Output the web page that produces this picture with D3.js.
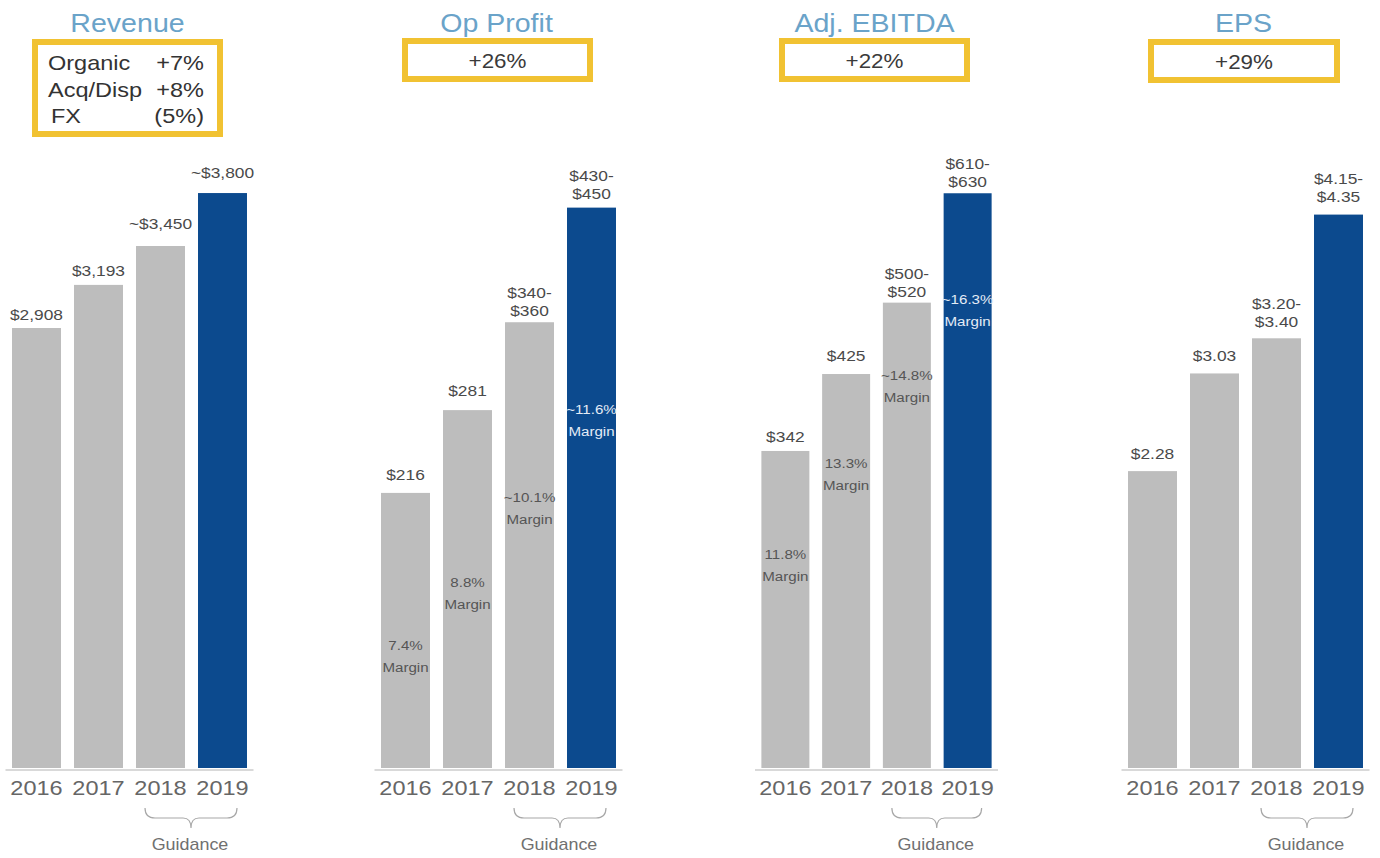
<!DOCTYPE html>
<html>
<head>
<meta charset="utf-8">
<script src="https://cdn.jsdelivr.net/npm/d3@7"></script>
<style>
  html, body { margin: 0; padding: 0; background: #ffffff; }
  svg { display: block; }
  text { font-family: "Liberation Sans", Arial, Helvetica, sans-serif; }
</style>
</head>
<body>
<svg id="chart" width="1380" height="858"></svg>
<script>
// ---- data ----------------------------------------------------------------
const years = ["2016", "2017", "2018", "2019"];
const guidanceYears = ["2018", "2019"];

const revenue = [2908, 3193, 3450, 3800];
const revenueLabels = [["$2,908"], ["$3,193"], ["~$3,450"], ["~$3,800"]];
const revenueBridge = [["Organic", "+7%"], ["Acq/Disp", "+8%"], ["FX", "(5%)"]];

const opProfit = [216, 281, 350, 440];
const opProfitLabels = [["$216"], ["$281"], ["$340-", "$360"], ["$430-", "$450"]];
const opProfitMargins = ["7.4%", "8.8%", "~10.1%", "~11.6%"];
const opProfitGrowth = "+26%";

const ebitda = [342, 425, 502, 620];
const ebitdaLabels = [["$342"], ["$425"], ["$500-", "$520"], ["$610-", "$630"]];
const ebitdaMargins = ["11.8%", "13.3%", "~14.8%", "~16.3%"];
const ebitdaGrowth = "+22%";

const eps = [2.28, 3.03, 3.30, 4.25];
const epsLabels = [["$2.28"], ["$3.03"], ["$3.20-", "$3.40"], ["$4.15-", "$4.35"]];
const epsGrowth = "+29%";

// ---- layout --------------------------------------------------------------
const W = 1380, H = 858;
const BASE = 768, TOP = 100;           // bar baseline and top of the value range
const SX = 1.12;                       // horizontal stretch applied to all text
const GREY = "#bdbdbd", BLUE = "#0c4a8e", GOLD = "#f1c232", TITLE = "#6aa3c9";

const panels = [
  { title: "Revenue", values: revenue, labels: revenueLabels, margins: null,
    growth: null, bridge: revenueBridge,
    x: [5.5, 253.5], yMax: 4415, gaps: [8, 9, 17, 15], drops: null,
    box: [35, 42, 185, 92] },
  { title: "Op Profit", values: opProfit, labels: opProfitLabels, margins: opProfitMargins,
    growth: opProfitGrowth, bridge: null,
    x: [374.5, 622.5], yMax: 524.5, gaps: [13, 14, 6, 9], drops: [157, 177, 180, 206],
    box: [405, 41, 185, 38] },
  { title: "Adj. EBITDA", values: ebitda, labels: ebitdaLabels, margins: ebitdaMargins,
    growth: ebitdaGrowth, bridge: null,
    x: [755, 998], yMax: 720.6, gaps: [9, 13, 6, 6], drops: [108, 94, 77, 111],
    box: [782, 41, 185, 38] },
  { title: "EPS", values: eps, labels: epsLabels, margins: null,
    growth: epsGrowth, bridge: null,
    x: [1121.5, 1369.5], yMax: 5.13, gaps: [12, 12, 11, 13], drops: null,
    box: [1151, 42, 186, 38] }
];

const svg = d3.select("#chart");

// text helper: positioned with a transform so it can be stretched horizontally
function txt(sel, x, y, s, size, fill, anchor = "middle") {
  return sel.append("text")
    .attr("transform", `translate(${x},${y}) scale(${SX},1)`)
    .attr("text-anchor", anchor)
    .attr("font-size", size)
    .attr("fill", fill)
    .text(s);
}

panels.forEach(p => {
  const g = svg.append("g");
  const x = d3.scaleBand().domain(years).range(p.x).paddingInner(0.21).paddingOuter(0.105);
  const y = d3.scaleLinear().domain([0, p.yMax]).range([BASE, TOP]);
  const cx = (x(years[0]) + x(years[3]) + x.bandwidth()) / 2;
  const bw = x.bandwidth();

  // title
  txt(g, cx - 2, 32, p.title, 25.5, TITLE);

  // growth box
  const [bx, by, bwid, bh] = p.box;
  g.append("rect").attr("x", bx).attr("y", by).attr("width", bwid).attr("height", bh)
    .attr("fill", "#fff").attr("stroke", GOLD).attr("stroke-width", 6);
  if (p.growth) {
    txt(g, bx + bwid / 2, by + 27, p.growth, 20, "#3a3a3a");
  }
  if (p.bridge) {
    p.bridge.forEach((row, i) => {
      const yy = by + 28 + i * 26.5;
      txt(g, bx + 13 + (i === 2 ? 3 : 0), yy, row[0], 21, "#333", "start");
      txt(g, bx + bwid - 16, yy, row[1], 21, "#333", "end");
    });
  }

  // baseline
  g.append("line")
    .attr("x1", p.x[0]).attr("x2", p.x[1])
    .attr("y1", BASE + 2).attr("y2", BASE + 2)
    .attr("stroke", "#d9d9d9").attr("stroke-width", 2);

  // bars
  g.selectAll("rect.bar").data(p.values).join("rect")
    .attr("class", "bar")
    .attr("x", (d, i) => x(years[i]))
    .attr("y", d => y(d))
    .attr("width", bw)
    .attr("height", d => BASE - y(d))
    .attr("fill", (d, i) => i === 3 ? BLUE : GREY);

  // value labels above bars
  p.values.forEach((v, i) => {
    const lines = p.labels[i];
    const bottom = y(v) - p.gaps[i];
    lines.forEach((s, j) => {
      txt(g, x(years[i]) + bw / 2, bottom - (lines.length - 1 - j) * 18, s, 15.5, "#4a4a4a");
    });
  });

  // margin labels inside bars
  if (p.margins) {
    p.values.forEach((v, i) => {
      const yy = y(v) + p.drops[i];
      const col = i === 3 ? "#e4ecf6" : "#555";
      txt(g, x(years[i]) + bw / 2, yy, p.margins[i], 13.5, col);
      txt(g, x(years[i]) + bw / 2, yy + 22, "Margin", 13.5, col);
    });
  }

  // year labels
  years.forEach(yr => txt(g, x(yr) + bw / 2, 795, yr, 21, "#666"));

  // guidance brace under the last two years
  const xa = x(guidanceYears[0]) + 9;
  const xb = x(guidanceYears[1]) + bw - 10;
  const xm = (xa + xb) / 2;
  const y0 = 808, y1 = 818, y2 = 828;
  const path = d3.path();
  path.moveTo(xa, y0);
  path.quadraticCurveTo(xa, y1, xa + 10, y1);
  path.lineTo(xm - 8, y1);
  path.quadraticCurveTo(xm, y1, xm, y2);
  path.quadraticCurveTo(xm, y1, xm + 8, y1);
  path.lineTo(xb - 10, y1);
  path.quadraticCurveTo(xb, y1, xb, y0);
  g.append("path").attr("d", path.toString())
    .attr("fill", "none").attr("stroke", "#a8a8a8").attr("stroke-width", 1.2);
  txt(g, xm - 1, 850, "Guidance", 16, "#707070");
});
</script>
</body>
</html>
